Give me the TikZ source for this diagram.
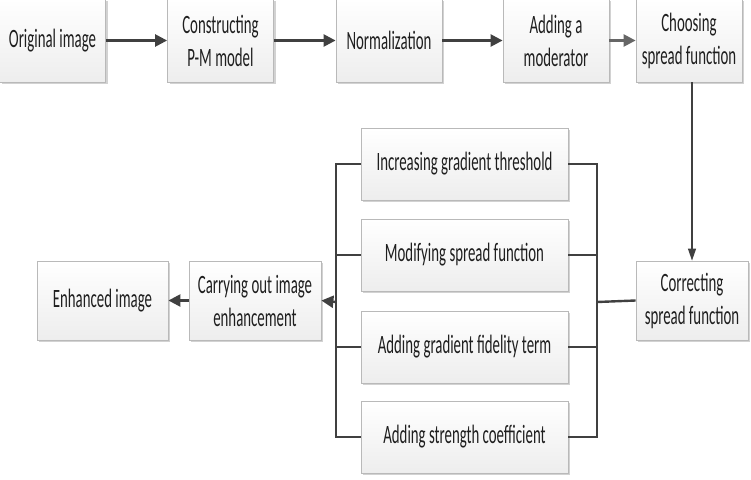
\documentclass[tikz,border=0pt]{standalone}
\usepackage{fontspec}
\setmainfont[FakeStretch=0.56]{Carlito}
\usetikzlibrary{shadows,arrows.meta}

\tikzset{
  box/.style={draw=gray!55, line width=0.8pt, top color=white, bottom color=gray!14,
    drop shadow={shadow xshift=2pt, shadow yshift=-2pt, fill=gray!70, opacity=0.5},
    text=black!88, inner sep=0pt, align=center, font=\fontsize{26.5}{33}\selectfont},
  topbox/.style={box, minimum width=106pt, minimum height=83pt},
  midbox/.style={box, minimum width=207pt, minimum height=72pt},
  lowbox/.style={box, minimum width=132pt, minimum height=79pt},
  link/.style={draw=black!75, line width=2.4pt},
  tip/.style={-{Triangle[length=12pt,width=12pt]}}
}

\begin{document}
\begin{tikzpicture}[x=1pt,y=-1pt]
\useasboundingbox (0,0) rectangle (751,479);

%TOP ROW
\node[topbox] (orig) at (52.5,40.5) {Original image};
\node[topbox] (pm) at (220.5,40.5) {Constructing\\P-M model};
\node[topbox] (norm) at (389,40.5) {Normalization};
\node[topbox] (moder) at (556,40.5) {Adding a\\moderator};
\node[topbox] (choose) at (689,40.5) {Choosing\\spread function};

%MIDDLE BOXES
\node[midbox] (inc) at (464.5,164) {Increasing gradient threshold};
\node[midbox] (modf) at (464.5,255) {Modifying spread function};
\node[midbox] (fid) at (464.5,347) {Adding gradient fidelity term};
\node[midbox] (stre) at (464.5,437) {Adding strength coefficient};

%LOWER ROW
\node[lowbox, minimum width=112pt] (corr) at (692,300.5) {Correcting\\spread function};
\node[lowbox] (carry) at (255,300.5) {Carrying out image\\enhancement};
\node[lowbox, minimum width=131pt] (enh) at (102.5,300.5) {Enhanced image};

%Arrows
\foreach \a/\b in {orig/pm,pm/norm,norm/moder}
{
\draw [link,tip] (\a) -- (\b);
}
\draw [link,tip,draw=black!60] (moder) -- (choose);
\draw [draw=black!75, line width=1.2pt, -{Triangle[length=12pt,width=8pt]}]
  (corr.north |- choose.south) -- (corr.north);

%Buses
\coordinate (rbus) at (597,302);
\coordinate (lbus) at (336,302);
\foreach \n in {inc,modf,fid,stre}
{
\draw [link] (\n.east) -| (rbus);
\draw [link] (\n.west) -| (lbus);
}
\draw [link] (corr.west) -- (rbus);
\draw [link,tip] (lbus) -- (carry.east);
\draw [link,tip] (carry.west) -- (enh.east);

\end{tikzpicture}
\end{document}
